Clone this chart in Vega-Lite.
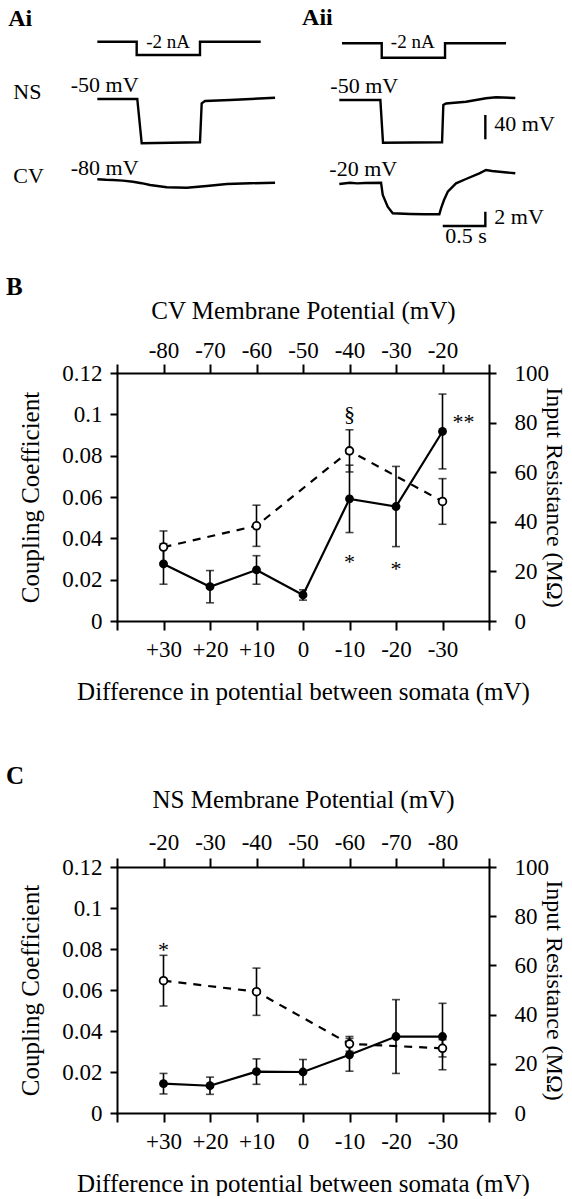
{
  "$schema": "https://vega.github.io/schema/vega-lite/v6.json",
  "padding": {"left": 6, "top": 0, "right": 4, "bottom": 0},
  "background": "white",
  "bounds": "flush",
  "spacing": 246,
  "config": {
    "view": {"stroke": null},
    "font": "Liberation Serif",
    "text": {"font": "Liberation Serif", "color": "black"},
    "title": {"font": "Liberation Serif", "fontWeight": "bold", "fontSize": 25, "anchor": "start", "frame": "group", "color": "black"},
    "axis": {
      "grid": false,
      "domainColor": "black", "domainWidth": 2, "domainCap": "square",
      "tickColor": "black", "tickWidth": 2,
      "labelColor": "black", "titleColor": "black",
      "labelFont": "Liberation Serif", "titleFont": "Liberation Serif",
      "labelFontSize": 23, "titleFontSize": 25, "titleFontWeight": "normal",
      "labelFlush": false, "labelOverlap": false
    }
  },
  "vconcat": [
    {
      "width": 372,
      "height": 127,
      "layer": [
        {
          "data": {"values": [
            {"trace": "stimAi", "i": 0, "t": 0, "level": -41.7},
            {"trace": "stimAi", "i": 1, "t": 0.462, "level": -41.7},
            {"trace": "stimAi", "i": 2, "t": 0.462, "level": -55},
            {"trace": "stimAi", "i": 3, "t": 1.205, "level": -55},
            {"trace": "stimAi", "i": 4, "t": 1.205, "level": -41.7},
            {"trace": "stimAi", "i": 5, "t": 1.918, "level": -41.7},
            {"trace": "stimAii", "i": 0, "t": 2.872, "level": -43.3},
            {"trace": "stimAii", "i": 1, "t": 3.338, "level": -43.3},
            {"trace": "stimAii", "i": 2, "t": 3.338, "level": -57.7},
            {"trace": "stimAii", "i": 3, "t": 4.081, "level": -57.7},
            {"trace": "stimAii", "i": 4, "t": 4.081, "level": -43.3},
            {"trace": "stimAii", "i": 5, "t": 4.797, "level": -43.3},
            {"trace": "nsAi", "i": 0, "t": 0, "level": -99},
            {"trace": "nsAi", "i": 1, "t": 0.469, "level": -99},
            {"trace": "nsAi", "i": 2, "t": 0.521, "level": -143.3},
            {"trace": "nsAi", "i": 3, "t": 1.205, "level": -142.3},
            {"trace": "nsAi", "i": 4, "t": 1.225, "level": -103.3},
            {"trace": "nsAi", "i": 5, "t": 1.264, "level": -101},
            {"trace": "nsAi", "i": 6, "t": 1.558, "level": -100},
            {"trace": "nsAi", "i": 7, "t": 1.8, "level": -99},
            {"trace": "nsAi", "i": 8, "t": 2.086, "level": -97.7},
            {"trace": "cvAi", "i": 0, "t": 0, "level": -179.3},
            {"trace": "cvAi", "i": 1, "t": 0.1, "level": -179.8},
            {"trace": "cvAi", "i": 2, "t": 0.184, "level": -180},
            {"trace": "cvAi", "i": 3, "t": 0.3, "level": -180.6},
            {"trace": "cvAi", "i": 4, "t": 0.419, "level": -181.7},
            {"trace": "cvAi", "i": 5, "t": 0.52, "level": -183.2},
            {"trace": "cvAi", "i": 6, "t": 0.619, "level": -185},
            {"trace": "cvAi", "i": 7, "t": 0.815, "level": -187.3},
            {"trace": "cvAi", "i": 8, "t": 1.049, "level": -187.7},
            {"trace": "cvAi", "i": 9, "t": 1.284, "level": -186},
            {"trace": "cvAi", "i": 10, "t": 1.519, "level": -184},
            {"trace": "cvAi", "i": 11, "t": 1.792, "level": -183.3},
            {"trace": "cvAi", "i": 12, "t": 2.086, "level": -182.7},
            {"trace": "nsAii", "i": 0, "t": 2.84, "level": -100},
            {"trace": "nsAii", "i": 1, "t": 3.322, "level": -100},
            {"trace": "nsAii", "i": 2, "t": 3.353, "level": -142.7},
            {"trace": "nsAii", "i": 3, "t": 4.046, "level": -142.3},
            {"trace": "nsAii", "i": 4, "t": 4.061, "level": -105},
            {"trace": "nsAii", "i": 5, "t": 4.093, "level": -103.5},
            {"trace": "nsAii", "i": 6, "t": 4.327, "level": -101.7},
            {"trace": "nsAii", "i": 7, "t": 4.562, "level": -98.3},
            {"trace": "nsAii", "i": 8, "t": 4.68, "level": -97.3},
            {"trace": "nsAii", "i": 9, "t": 4.906, "level": -98},
            {"trace": "cvAii", "i": 0, "t": 2.84, "level": -184},
            {"trace": "cvAii", "i": 1, "t": 2.966, "level": -182.7},
            {"trace": "cvAii", "i": 2, "t": 3.05, "level": -183.4},
            {"trace": "cvAii", "i": 3, "t": 3.142, "level": -183},
            {"trace": "cvAii", "i": 4, "t": 3.33, "level": -182.7},
            {"trace": "cvAii", "i": 5, "t": 3.35, "level": -195},
            {"trace": "cvAii", "i": 6, "t": 3.408, "level": -206.7},
            {"trace": "cvAii", "i": 7, "t": 3.467, "level": -213.3},
            {"trace": "cvAii", "i": 8, "t": 3.67, "level": -214},
            {"trace": "cvAii", "i": 9, "t": 3.846, "level": -214.3},
            {"trace": "cvAii", "i": 10, "t": 4.014, "level": -214.3},
            {"trace": "cvAii", "i": 11, "t": 4.034, "level": -208.3},
            {"trace": "cvAii", "i": 12, "t": 4.069, "level": -200},
            {"trace": "cvAii", "i": 13, "t": 4.113, "level": -191.7},
            {"trace": "cvAii", "i": 14, "t": 4.21, "level": -183.3},
            {"trace": "cvAii", "i": 15, "t": 4.327, "level": -179},
            {"trace": "cvAii", "i": 16, "t": 4.484, "level": -173.3},
            {"trace": "cvAii", "i": 17, "t": 4.562, "level": -170},
            {"trace": "cvAii", "i": 18, "t": 4.633, "level": -171},
            {"trace": "cvAii", "i": 19, "t": 4.718, "level": -171.7},
            {"trace": "cvAii", "i": 20, "t": 4.809, "level": -172.5},
            {"trace": "cvAii", "i": 21, "t": 4.906, "level": -173.3},
            {"trace": "bar40", "i": 0, "t": 4.554, "level": -115},
            {"trace": "bar40", "i": 1, "t": 4.554, "level": -139.3},
            {"trace": "bar2", "i": 0, "t": 4.054, "level": -226},
            {"trace": "bar2", "i": 1, "t": 4.554, "level": -226},
            {"trace": "bar2", "i": 2, "t": 4.554, "level": -211.7}
          ]},
          "mark": {"type": "line", "color": "black", "strokeWidth": 2.4, "strokeJoin": "miter", "clip": false},
          "encoding": {
            "x": {"field": "t", "type": "quantitative", "scale": {"domain": [0.231, 4.597], "nice": false, "zero": false}, "axis": null},
            "y": {"field": "level", "type": "quantitative", "scale": {"domain": [-127, 0], "nice": false, "zero": false}, "axis": null},
            "detail": {"field": "trace"},
            "order": {"field": "i"}
          }
        },
        {
          "data": {"values": [
            {"label": "NS", "t": -0.986, "level": -99},
            {"label": "CV", "t": -0.986, "level": -183.3},
            {"label": "-50 mV", "t": -0.312, "level": -91.7},
            {"label": "-80 mV", "t": -0.312, "level": -175},
            {"label": "-50 mV", "t": 2.735, "level": -92.7},
            {"label": "-20 mV", "t": 2.723, "level": -176},
            {"label": "40 mV", "t": 4.66, "level": -130.7},
            {"label": "2 mV", "t": 4.66, "level": -224}
          ]},
          "mark": {"type": "text", "align": "left", "baseline": "alphabetic", "fontSize": 22},
          "encoding": {
            "x": {"field": "t", "type": "quantitative"},
            "y": {"field": "level", "type": "quantitative"},
            "text": {"field": "label"}
          }
        },
        {
          "data": {"values": [
            {"label": "0.5 s", "t": 4.327, "level": -242.7}
          ]},
          "mark": {"type": "text", "align": "center", "baseline": "alphabetic", "fontSize": 22},
          "encoding": {
            "x": {"field": "t", "type": "quantitative"},
            "y": {"field": "level", "type": "quantitative"},
            "text": {"field": "label"}
          }
        },
        {
          "data": {"values": [
            {"label": "-2 nA", "t": 0.83, "level": -47.5},
            {"label": "-2 nA", "t": 3.702, "level": -48.3}
          ]},
          "mark": {"type": "text", "align": "center", "baseline": "alphabetic", "fontSize": 19},
          "encoding": {
            "x": {"field": "t", "type": "quantitative"},
            "y": {"field": "level", "type": "quantitative"},
            "text": {"field": "label"}
          }
        },
        {
          "data": {"values": [
            {"label": "Ai", "t": -1.045, "level": -26},
            {"label": "Aii", "t": 2.403, "level": -25}
          ]},
          "mark": {"type": "text", "align": "left", "baseline": "alphabetic", "fontSize": 24, "fontWeight": "bold"},
          "encoding": {
            "x": {"field": "t", "type": "quantitative"},
            "y": {"field": "level", "type": "quantitative"},
            "text": {"field": "label"}
          }
        }
      ]
    },
    {
      "width": 372,
      "height": 248,
      "title": {"text": "B", "dx": -111, "offset": 0, "dy": 2},
      "layer": [
        {
          "data": {"values": [
            {"cv_mV": -80, "cc": 0.0276, "cc_err": 0.0098},
            {"cv_mV": -70, "cc": 0.0166, "cc_err": 0.0078},
            {"cv_mV": -60, "cc": 0.0247, "cc_err": 0.0069},
            {"cv_mV": -50, "cc": 0.0126, "cc_err": 0.0025},
            {"cv_mV": -40, "cc": 0.0591, "cc_err": 0.0163},
            {"cv_mV": -30, "cc": 0.0554, "cc_err": 0.0194},
            {"cv_mV": -20, "cc": 0.0917, "cc_err": 0.0181}
          ]},
          "encoding": {
            "x": {"field": "cv_mV", "type": "quantitative",
              "scale": {"domain": [-90, -10], "nice": false, "zero": false},
              "axis": {"orient": "bottom", "values": [-90, -80, -70, -60, -50, -40, -30, -20, -10],
                "labelExpr": "datum.value <= -85 || datum.value >= -15 ? '' : (datum.value < -50 ? '+' + (-50 - datum.value) : '' + (-50 - datum.value))",
                "title": "Difference in potential between somata (mV)", "tickSize": 9, "labelPadding": 8, "titlePadding": 18}},
            "y": {"field": "cc", "type": "quantitative",
              "scale": {"domain": [0, 0.12], "nice": false, "zero": false},
              "axis": {"orient": "left", "values": [0, 0.02, 0.04, 0.06, 0.08, 0.1, 0.12], "format": ".2~f",
                "title": "Coupling Coefficient", "tickSize": 7, "labelPadding": 8, "titlePadding": 18}}
          },
          "layer": [
            {"mark": {"type": "errorbar", "ticks": {"size": 8}, "thickness": 1.6, "color": "black"},
             "encoding": {"yError": {"field": "cc_err"}}},
            {"mark": {"type": "line", "color": "black", "strokeWidth": 2.2}},
            {"mark": {"type": "point", "shape": "circle", "filled": true, "color": "black", "size": 78, "opacity": 1}},
            {"data": {"values": [
              {"cv_mV": -40, "cc": 0.0968, "label": "§"},
              {"cv_mV": -40, "cc": 0.025, "label": "*"},
              {"cv_mV": -30, "cc": 0.0218, "label": "*"},
              {"cv_mV": -15.5, "cc": 0.0928, "label": "**"}
            ]},
             "mark": {"type": "text", "align": "center", "baseline": "alphabetic", "fontSize": 22},
             "encoding": {"text": {"field": "label"}}}
          ]
        },
        {
          "data": {"values": [
            {"cv_mV": -80, "r": 29.8, "r_err": 6.5},
            {"cv_mV": -60, "r": 38.4, "r_err": 8.3},
            {"cv_mV": -40, "r": 68.6, "r_err": 8.5},
            {"cv_mV": -20, "r": 48.2, "r_err": 9.2}
          ]},
          "encoding": {
            "x": {"field": "cv_mV", "type": "quantitative",
              "scale": {"domain": [-90, -10], "nice": false, "zero": false},
              "axis": {"orient": "top", "values": [-90, -80, -70, -60, -50, -40, -30, -20, -10],
                "labelExpr": "datum.value <= -85 || datum.value >= -15 ? '' : '' + datum.value",
                "title": "CV Membrane Potential (mV)", "tickSize": 9, "labelPadding": 2, "titlePadding": 16}},
            "y": {"field": "r", "type": "quantitative",
              "scale": {"domain": [0, 100], "nice": false, "zero": false},
              "axis": {"orient": "right", "values": [0, 20, 40, 60, 80, 100],
                "title": "Input Resistance (MΩ)", "titleFontSize": 24, "tickSize": 7, "labelPadding": 18, "titlePadding": -7}}
          },
          "layer": [
            {"mark": {"type": "errorbar", "ticks": {"size": 8}, "thickness": 1.6, "color": "black"},
             "encoding": {"yError": {"field": "r_err"}}},
            {"mark": {"type": "line", "color": "black", "strokeWidth": 2.2, "strokeDash": [8, 7]}},
            {"mark": {"type": "point", "shape": "circle", "filled": true, "fill": "white", "stroke": "black", "strokeWidth": 1.8, "size": 60, "opacity": 1}}
          ]
        }
      ],
      "resolve": {"scale": {"y": "independent"}, "axis": {"x": "independent", "y": "independent"}}
    },
    {
      "width": 372,
      "height": 246,
      "title": {"text": "C", "dx": -111, "offset": 0, "dy": 2},
      "layer": [
        {
          "data": {"values": [
            {"ns_mV": -20, "cc": 0.0143, "cc_err": 0.005},
            {"ns_mV": -30, "cc": 0.0133, "cc_err": 0.0042},
            {"ns_mV": -40, "cc": 0.0202, "cc_err": 0.0062},
            {"ns_mV": -50, "cc": 0.02, "cc_err": 0.0061},
            {"ns_mV": -60, "cc": 0.0284, "cc_err": 0.008},
            {"ns_mV": -70, "cc": 0.0373, "cc_err": 0.018},
            {"ns_mV": -80, "cc": 0.0373, "cc_err": 0.0162}
          ]},
          "encoding": {
            "x": {"field": "ns_mV", "type": "quantitative",
              "scale": {"domain": [-90, -10], "reverse": true, "nice": false, "zero": false},
              "axis": {"orient": "bottom", "values": [-90, -80, -70, -60, -50, -40, -30, -20, -10],
                "labelExpr": "datum.value <= -85 || datum.value >= -15 ? '' : (datum.value > -50 ? '+' + (datum.value + 50) : '' + (datum.value + 50))",
                "title": "Difference in potential between somata (mV)", "tickSize": 9, "labelPadding": 8, "titlePadding": 18}},
            "y": {"field": "cc", "type": "quantitative",
              "scale": {"domain": [0, 0.12], "nice": false, "zero": false},
              "axis": {"orient": "left", "values": [0, 0.02, 0.04, 0.06, 0.08, 0.1, 0.12], "format": ".2~f",
                "title": "Coupling Coefficient", "tickSize": 7, "labelPadding": 8, "titlePadding": 18}}
          },
          "layer": [
            {"mark": {"type": "errorbar", "ticks": {"size": 8}, "thickness": 1.6, "color": "black"},
             "encoding": {"yError": {"field": "cc_err"}}},
            {"mark": {"type": "line", "color": "black", "strokeWidth": 2.2}},
            {"mark": {"type": "point", "shape": "circle", "filled": true, "color": "black", "size": 78, "opacity": 1}},
            {"data": {"values": [
              {"ns_mV": -20, "cc": 0.0762, "label": "*"}
            ]},
             "mark": {"type": "text", "align": "center", "baseline": "alphabetic", "fontSize": 22},
             "encoding": {"text": {"field": "label"}}}
          ]
        },
        {
          "data": {"values": [
            {"ns_mV": -20, "r": 53.8, "r_err": 10.3},
            {"ns_mV": -40, "r": 49.3, "r_err": 9.6},
            {"ns_mV": -60, "r": 28.1, "r_err": 3},
            {"ns_mV": -80, "r": 26.3, "r_err": 3.5}
          ]},
          "encoding": {
            "x": {"field": "ns_mV", "type": "quantitative",
              "scale": {"domain": [-90, -10], "reverse": true, "nice": false, "zero": false},
              "axis": {"orient": "top", "values": [-90, -80, -70, -60, -50, -40, -30, -20, -10],
                "labelExpr": "datum.value <= -85 || datum.value >= -15 ? '' : '' + datum.value",
                "title": "NS Membrane Potential (mV)", "tickSize": 9, "labelPadding": 4, "titlePadding": 19}},
            "y": {"field": "r", "type": "quantitative",
              "scale": {"domain": [0, 100], "nice": false, "zero": false},
              "axis": {"orient": "right", "values": [0, 20, 40, 60, 80, 100],
                "title": "Input Resistance (MΩ)", "titleFontSize": 24, "tickSize": 7, "labelPadding": 18, "titlePadding": -7}}
          },
          "layer": [
            {"mark": {"type": "errorbar", "ticks": {"size": 8}, "thickness": 1.6, "color": "black"},
             "encoding": {"yError": {"field": "r_err"}}},
            {"mark": {"type": "line", "color": "black", "strokeWidth": 2.2, "strokeDash": [8, 7]}},
            {"mark": {"type": "point", "shape": "circle", "filled": true, "fill": "white", "stroke": "black", "strokeWidth": 1.8, "size": 60, "opacity": 1}}
          ]
        }
      ],
      "resolve": {"scale": {"y": "independent"}, "axis": {"x": "independent", "y": "independent"}}
    }
  ]
}
